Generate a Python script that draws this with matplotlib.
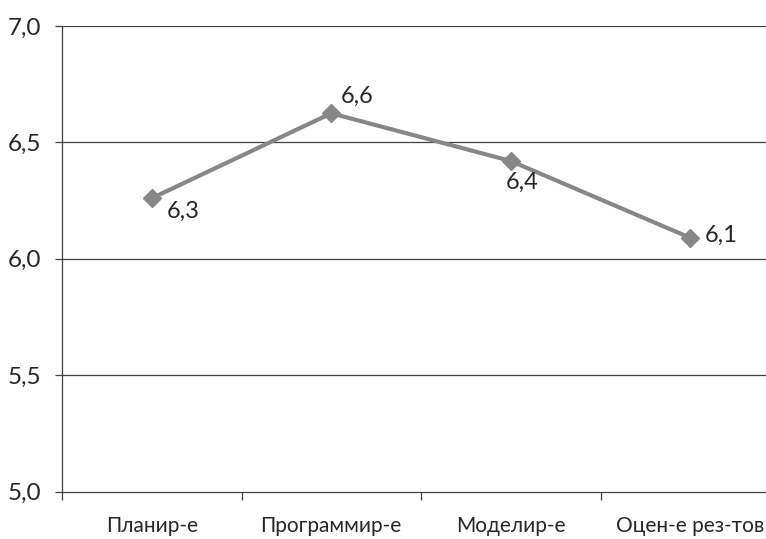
import matplotlib
matplotlib.use('Agg')
import matplotlib.pyplot as plt

categories = ['Планир-е', 'Программир-е', 'Моделир-е', 'Оцен-е рез-тов']
values = [6.26, 6.625, 6.42, 6.09]
y_ticks = [5.0, 5.5, 6.0, 6.5, 7.0]
label_offsets = [(15, -13), (10, 17), (-5, -21), (15, 2)]

plt.rcParams['font.family'] = ['Lato', 'DejaVu Sans']
text_color = '#262626'
line_color = '#878787'
grid_color = '#404040'

fig = plt.figure(figsize=(7.66, 5.39), dpi=100)
W, H = 766, 539
left, right, top, bottom = 62, 780, 26, 491.5
ax = fig.add_axes([left / W, 1 - bottom / H, (right - left) / W, (bottom - top) / H])

x = list(range(len(categories)))
ax.plot(x, values, color=line_color, lw=3, marker='D', markersize=9,
        markerfacecolor=line_color, markeredgecolor=line_color, zorder=3)

px = 0.72  # points per pixel at 100 dpi
for xi, v, (dx, dy) in zip(x, values, label_offsets):
    ax.annotate(f'{v:.1f}'.replace('.', ','), (xi, v), xytext=(dx * px, dy * px),
                textcoords='offset points', ha='left', va='center',
                fontsize=17, color=text_color)

ax.set_xlim(-0.5, len(categories) - 0.5)
ax.set_ylim(5.0, 7.0)
ax.set_yticks(y_ticks)
ax.set_yticklabels([f'{t:.1f}'.replace('.', ',') for t in y_ticks])
for t in y_ticks[1:]:
    ax.axhline(t, color=grid_color, lw=0.9, zorder=1)

ax.set_xticks(x)
ax.set_xticklabels(categories)
ax.set_xticks([i - 0.5 for i in range(len(categories) + 1)], minor=True)
ax.tick_params(axis='x', which='major', length=0, pad=18, labelsize=15, labelcolor=text_color)
ax.tick_params(axis='x', which='minor', length=6, width=0.9, color=grid_color, direction='out')
ax.tick_params(axis='y', length=5, width=0.9, color=grid_color, pad=10,
               labelsize=17.5, labelcolor=text_color)

for s in ['top', 'right']:
    ax.spines[s].set_visible(False)
for s in ['left', 'bottom']:
    ax.spines[s].set_color(grid_color)
    ax.spines[s].set_linewidth(0.9)

fig.savefig('out.png', dpi=100)
